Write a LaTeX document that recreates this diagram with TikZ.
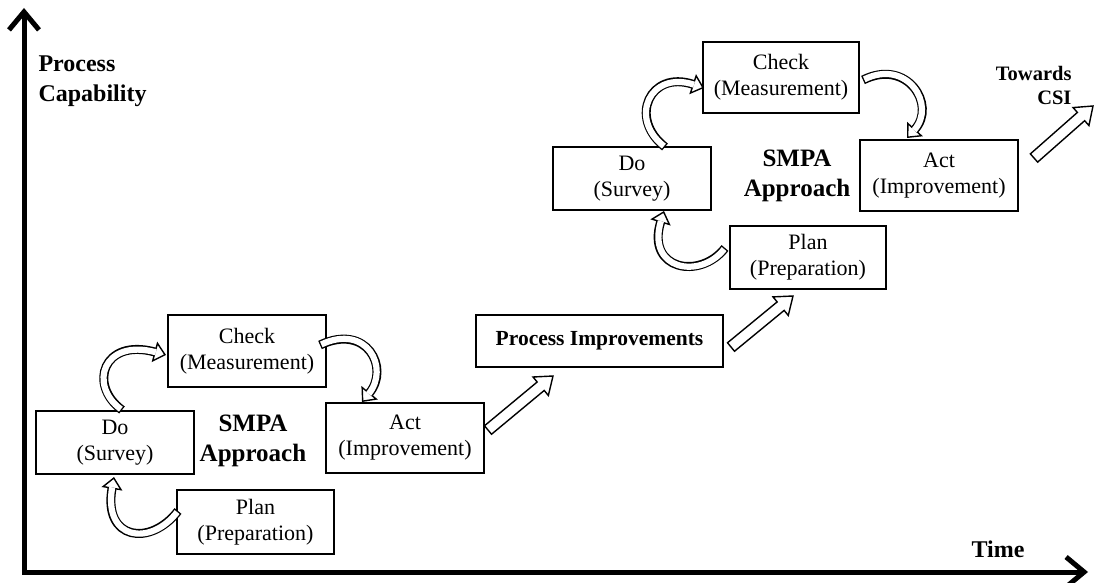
\documentclass[tikz,border=0pt]{standalone}
\usepackage{fontspec}
\setmainfont{Liberation Serif}
\usetikzlibrary{arrows.meta,calc}

% straight block arrow with a white body: #1 name, #2 tail, #3 head
\newcommand\blockarrow[3]{%
  \coordinate (#1-n) at ($(#3)!16pt!(#2)$);
  \draw[blockline]
    ($(#2)!5.5pt!90:(#3)$) -- ($(#1-n)!5.5pt!90:(#3)$) -- ($(#1-n)!12pt!90:(#3)$)
    -- (#3) -- ($(#1-n)!12pt!-90:(#3)$) -- ($(#1-n)!5.5pt!-90:(#3)$)
    -- ($(#2)!5.5pt!-90:(#3)$) -- cycle;}
% curved block arrow: black outline, white body
\newcommand\cyclearrow[1]{\draw[cycleout] #1; \draw[cyclein] #1;}

\begin{document}
\begin{tikzpicture}[x=1pt,y=-1pt,
  box/.style={draw, line width=2.5pt, align=center, inner sep=0pt,
    font=\fontsize{22}{26}\selectfont},
  label/.style={align=center, font=\fontsize{25}{30}\selectfont\bfseries},
  axis/.style={line width=5pt,
    {Straight Barb[length=18pt, width=30pt, line width=5pt]}-{Straight Barb[length=18pt, width=30pt, line width=5pt]}},
  blockline/.style={draw=black, fill=white, line width=1.4pt, line join=miter},
  cycleout/.style={line width=9pt,
    -{Triangle[fill=white, length=12pt, width=21pt, line width=1.4pt]}},
  cyclein/.style={white, line width=6.2pt, shorten <=1.4pt, shorten >=10.5pt},
]
\useasboundingbox (0,0) rectangle (1094,583);

% axes
\coordinate (origin) at (24,572);
\coordinate (ytop) at (24,8);
\coordinate (xend) at (1088,572);
\draw[axis] (ytop) -- (origin) -- (xend);
\node[anchor=west, align=left, font=\fontsize{24}{30}\selectfont\bfseries] (ylab) at (35,81) {Process\\Capability};
\node[font=\fontsize{24}{30}\selectfont\bfseries] (xlab) at (998,549) {Time};

% first cycle
\node[box, minimum width=158, minimum height=72] (chk1) at (247,351) {Check\\(Measurement)};
\node[box, minimum width=158, minimum height=63] (do1) at (115,442.5) {Do\\(Survey)};
\node[box, minimum width=157, minimum height=64] (plan1) at (255.5,522) {Plan\\(Preparation)};
\node[box, minimum width=158, minimum height=70] (act1) at (405,438) {Act\\(Improvement)};
\node[label] (smpa1) at (253,441) {SMPA\\Approach};

% process improvements
\node[box, minimum width=247, minimum height=52, font=\fontsize{21.5}{26}\selectfont\bfseries] (pi) at (599.5,341) {Process Improvements};

% second cycle
\node[box, minimum width=156, minimum height=71] (chk2) at (781,77.5) {Check\\(Measurement)};
\node[box, minimum width=158, minimum height=63] (do2) at (632,178.5) {Do\\(Survey)};
\node[box, minimum width=158, minimum height=71] (act2) at (939,175.5) {Act\\(Improvement)};
\node[box, minimum width=156, minimum height=63] (plan2) at (808,257.5) {Plan\\(Preparation)};
\node[label] (smpa2) at (797,176) {SMPA\\Approach};

\node[anchor=east, align=right, font=\fontsize{20.5}{24}\selectfont\bfseries] (csi) at (1075,85) {Towards\\CSI};

% curved arrows of the first cycle
\cyclearrow{(178,511) .. controls (150,547) and (103,540) .. (114,477)}
\cyclearrow{(122,410) .. controls (88,385) and (103,338) .. (166,355)}
\cyclearrow{(320,345) .. controls (367,323) and (390,368) .. (362,402)}

% curved arrows of the second cycle
\cyclearrow{(725,248) .. controls (700,280) and (646,270) .. (664,211)}
\cyclearrow{(665,147) .. controls (628,118) and (650,70) .. (704,88)}
\cyclearrow{(863,80) .. controls (907,58) and (937,105) .. (907,138)}

% straight arrows between stages
\coordinate (s1a) at (488,430);
\coordinate (s1b) at (553,376);
\coordinate (s2a) at (731,347);
\coordinate (s2b) at (793,296);
\coordinate (s3a) at (1034,158);
\coordinate (s3b) at (1093,106);
\blockarrow{s1}{s1a}{s1b}
\blockarrow{s2}{s2a}{s2b}
\blockarrow{s3}{s3a}{s3b}
\end{tikzpicture}
\end{document}
